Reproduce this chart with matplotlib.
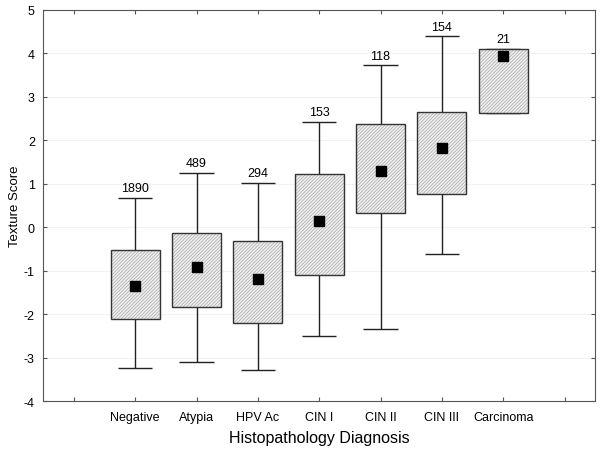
import matplotlib
matplotlib.use('Agg')
from matplotlib import pyplot as plt
import numpy as np

plt.rcParams['font.family'] = ['Liberation Sans', 'DejaVu Sans']
plt.rcParams['axes.unicode_minus'] = False
plt.rcParams['hatch.linewidth'] = 0.5

categories = ['Negative', 'Atypia', 'HPV Ac', 'CIN I', 'CIN II', 'CIN III', 'Carcinoma']
counts = [1890, 489, 294, 153, 118, 154, 21]
means = [-1.35, -0.92, -1.18, 0.15, 1.29, 1.82, 3.93]
box_low = [-2.10, -1.84, -2.20, -1.09, 0.32, 0.76, 2.62]
box_high = [-0.53, -0.14, -0.31, 1.22, 2.37, 2.65, 4.11]
whisk_low = [-3.24, -3.10, -3.29, -2.50, -2.34, -0.62, 2.62]
whisk_high = [0.68, 1.25, 1.02, 2.43, 3.73, 4.39, 4.11]

fig = plt.figure(figsize=(6, 4.52), dpi=100)
ax = fig.add_axes([0.072, 0.110, 0.920, 0.866])

x = np.arange(1, len(categories) + 1)

# whiskers + caps
ax.vlines(x, whisk_low, box_low, color='#222222', lw=1.0, zorder=2)
ax.vlines(x, box_high, whisk_high, color='#222222', lw=1.0, zorder=2)
ax.hlines(whisk_low, x - 0.28, x + 0.28, color='#222222', lw=1.0, zorder=2)
ax.hlines(whisk_high, x - 0.28, x + 0.28, color='#222222', lw=1.0, zorder=2)

# boxes: hatched fill (hatch colour comes from edgecolor), then outline
heights = np.array(box_high) - np.array(box_low)
ax.bar(x, heights, width=0.8, bottom=box_low, facecolor='#f0f0f0',
       edgecolor='#a8a8a8', linewidth=0, hatch='//////////', zorder=3)
ax.bar(x, heights, width=0.8, bottom=box_low, fill=False,
       edgecolor='#333333', linewidth=1.0, zorder=3.5)

# means
ax.plot(x, means, 's', color='black', ms=7, zorder=4)

# counts
for xi, top, n in zip(x, whisk_high, counts):
    ax.text(xi, top + 0.08, str(n), ha='center', va='bottom', fontsize=9)

ax.set_xlim(-0.5, 8.5)
ax.set_ylim(-4, 5)
ax.set_xticks(np.arange(0, 9))
ax.set_xticklabels([''] + categories + [''], fontsize=9)
ax.set_yticks(np.arange(-4, 6))
ax.tick_params(axis='y', labelsize=9, pad=6)
ax.tick_params(axis='x', pad=7)
ax.tick_params(direction='in', top=True, right=True, length=3, color='#555555')
ax.grid(axis='y', color='#f2f2f2', lw=0.8, zorder=0)
for s in ax.spines.values():
    s.set_color('#555555')

ax.set_xlabel('Histopathology Diagnosis', fontsize=11.5, labelpad=5)
ax.set_ylabel('Texture Score', fontsize=9.5, labelpad=2)

fig.savefig('out.png', dpi=100)
